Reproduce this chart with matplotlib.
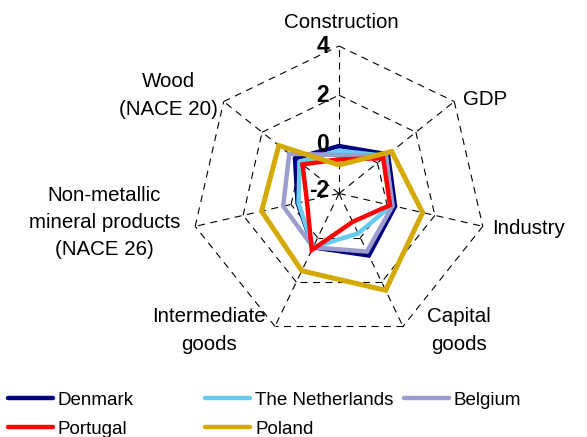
import numpy as np
import matplotlib.pyplot as plt

plt.rcParams['font.family'] = ['Liberation Sans', 'DejaVu Sans']
plt.rcParams['lines.scale_dashes'] = False

# spokes of the radar, clockwise from the top
categories = ['Construction', 'GDP', 'Industry', 'Capital\ngoods', 'Intermediate\ngoods',
              'Non-metallic\nmineral products\n(NACE 26)', 'Wood\n(NACE 20)']

countries = ['Denmark', 'The Netherlands', 'Belgium', 'Portugal', 'Poland']
denmark = [-0.07, 0.55, 0.34, 0.80, 0.43, -0.27, 0.29]
netherlands = [-0.26, 0.45, 0.20, -0.20, 0.43, -0.31, 0.05]
belgium = [-0.43, 0.43, 0.24, 0.62, 0.43, 0.33, 0.59]
portugal = [-0.61, 0.30, 0.13, -0.72, 0.55, -0.66, -0.10]
poland = [-0.84, 0.74, 1.49, 2.37, 1.49, 1.23, 1.13]

ring_values = [0, 2, 4]
tick_values = [4, 2, 0, -2]
r_min, r_max = -2, 4

colors = ['#000080', '#66CCF0', '#9C9CCE', '#FF0000', '#D4AA00']
widths = [3.2, 3.2, 3.2, 3.2, 3.6]

n = len(categories)
theta = np.linspace(0, 2 * np.pi, n, endpoint=False)

fig = plt.figure(figsize=(5.87, 4.37), dpi=100)
ax = fig.add_axes([0.3262, 0.2197, 0.5026, 0.675], projection='polar')
ax.set_theta_offset(np.pi / 2)
ax.set_theta_direction(-1)
ax.set_ylim(r_min, r_max)
ax.grid(False)
ax.set_xticks([])
ax.set_yticks([])
ax.spines['polar'].set_visible(False)
ax.patch.set_visible(False)

grid_kw = dict(color='black', lw=0.8, ls=(0, (5, 4)), clip_on=False, zorder=1)

# dashed heptagon rings
for rv in ring_values:
    for k in range(n):
        ax.plot([theta[k], theta[k] + 2 * np.pi / n], [rv, rv], **grid_kw)

# dashed spokes
for t in theta:
    ax.plot([t, t], [r_min, r_max], **grid_kw)

# value labels along the top spoke
for v in tick_values:
    ax.annotate(str(v), xy=(0, v), xytext=(-10, 3 if v == r_min else 0),
                textcoords='offset pixels', ha='right', va='center',
                fontsize=16.5, fontweight='bold', zorder=5)

# category labels around the outside
label_offsets = [(2, 24), (31, 2), (46, -2), (56, -4), (-66, -4), (-91, 4), (-55, 6)]
for t, lab, off in zip(theta, categories, label_offsets):
    ax.annotate(lab, xy=(t, r_max), xytext=off, textcoords='offset pixels',
                ha='center', va='center', multialignment='center',
                fontsize=14.8, linespacing=1.55)

series = [denmark, netherlands, belgium, portugal, poland]
handles = []
for vals, name, c, w in zip(series, countries, colors, widths):
    closed = list(vals) + [vals[0]]
    ang = list(theta) + [theta[0]]
    h, = ax.plot(ang, closed, color=c, lw=w, solid_joinstyle='miter',
                 solid_capstyle='butt', label=name, zorder=3, clip_on=False)
    handles.append(h)

# legend laid out in rows of three, one legend per column
columns = [[0, 3], [1, 4], [2]]
col_x = [0.014, 0.350, 0.688]
for idx, x in zip(columns, col_x):
    leg = fig.legend([handles[i] for i in idx], [countries[i] for i in idx],
                     loc='upper left', bbox_to_anchor=(x, 0.104), frameon=False,
                     fontsize=13.5, handlelength=2.4, handletextpad=0.25,
                     labelspacing=0.65, borderpad=0, borderaxespad=0)
    for line in leg.get_lines():
        line.set_linewidth(3.2)
        line.set_solid_capstyle('round')

fig.savefig('out.png', dpi=100)
